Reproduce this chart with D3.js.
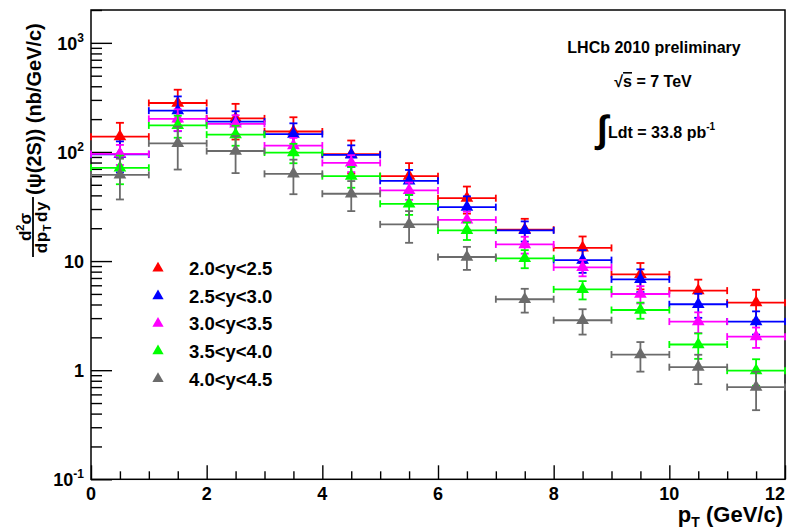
<!DOCTYPE html>
<html>
<head>
<meta charset="utf-8">
<script src="https://cdn.jsdelivr.net/npm/d3@7"></script>
<style>
  body { margin: 0; background: #fff; }
  svg { display: block; }
  text { font-family: "Liberation Sans", Arial, Helvetica, sans-serif; font-weight: bold; fill: #000; }
</style>
</head>
<body>
<svg id="chart" width="795" height="530"></svg>
<script>
// pT bins (GeV/c)
const ptLow  = [0, 1, 2, 3, 4, 5, 6, 7, 8, 9, 10, 11];
const ptHigh = [1, 2, 3, 4, 5, 6, 7, 8, 9, 10, 11, 12];
const ptMid  = [0.5, 1.5, 2.5, 3.5, 4.5, 5.5, 6.5, 7.5, 8.5, 9.5, 10.5, 11.5];

// rapidity intervals
const rapidityBins = ["2.0<y<2.5", "2.5<y<3.0", "3.0<y<3.5", "3.5<y<4.0", "4.0<y<4.5"];

// d2sigma/dpT dy for psi(2S), nb/(GeV/c), with statistical uncertainties
const xsecY20 = [138, 281, 203, 154, 95.3, 60, 37.7, 19.4, 13.2, 7.55, 5.36, 4.16];
const errY20  = [47, 91, 73, 54, 32, 19, 10.5, 5, 3.6, 2.05, 1.4, 1.3];
const xsecY25 = [95, 239, 190, 146, 94, 54.4, 31.2, 19.1, 10.2, 6.8, 4.02, 2.79];
const errY25  = [30, 84, 46, 37, 21, 14, 8, 4, 2.4, 1.6, 1.0, 0.67];
const xsecY30 = [96, 201, 181, 114.5, 79.4, 44.4, 23.9, 14.2, 8.75, 4.99, 2.79, 2.03];
const errY30  = [20, 45, 36, 20, 14, 8, 4.5, 2.5, 1.5, 0.9, 0.6, 0.43];
const xsecY35 = [71.6, 175, 144, 98.8, 60, 33.5, 19.1, 10.6, 5.5, 3.56, 1.72, 0.99];
const errY35  = [21, 40, 30, 20, 13, 7, 3.5, 2.0, 1.05, 0.6, 0.45, 0.27];
const xsecY40 = [61.7, 120, 102, 63, 41.4, 21.7, 10.9, 4.47, 2.87, 1.39, 1.065, 0.70];
const errY40  = [25, 51, 38, 22, 12.7, 7, 2.6, 1.1, 0.75, 0.42, 0.32, 0.27];

// axis ticks and labels
const xTickLabels = [0, 2, 4, 6, 8, 10, 12];
const yTickValues = [0.1, 1, 10, 100, 1000];
const yTickLabels = [["10", "-1"], ["1", ""], ["10", ""], ["10", "2"], ["10", "3"]];

const seriesValues = [xsecY20, xsecY25, xsecY30, xsecY35, xsecY40];
const seriesErrors = [errY20, errY25, errY30, errY35, errY40];
const seriesColors = ["#ff0000", "#0000ff", "#ff00ff", "#00ff00", "#6b6b6b"];

const svg = d3.select("#chart");
const frame = { left: 91, right: 785, top: 10, bottom: 479.3 };

const x = d3.scaleLinear().domain([0, 12]).range([frame.left, frame.right]);
const y = d3.scaleLog().domain([0.1, 2000]).range([frame.bottom, frame.top]);

// ---- axes (ticks point into the frame) ----
const xMinor = d3.range(0, 12.01, 0.5).filter(v => v % 2 !== 0);
const yMinor = [];
[0.1, 1, 10, 100, 1000].forEach(d => { for (let k = 2; k <= 9; k++) if (d * k <= 2000) yMinor.push(d * k); });

function axisStyle(g) {
  g.select(".domain").remove();
  g.selectAll("line").attr("stroke", "#000").attr("stroke-width", 1.4);
  g.selectAll("text").remove();
}

svg.append("g").attr("transform", `translate(0,${frame.bottom})`)
  .call(d3.axisBottom(x).tickValues(xTickLabels).tickSize(-14)).call(axisStyle);
svg.append("g").attr("transform", `translate(0,${frame.bottom})`)
  .call(d3.axisBottom(x).tickValues(xMinor).tickSize(-8)).call(axisStyle);
svg.append("g").attr("transform", `translate(${frame.left},0)`)
  .call(d3.axisLeft(y).tickValues(yTickValues).tickSize(-21)).call(axisStyle);
svg.append("g").attr("transform", `translate(${frame.left},0)`)
  .call(d3.axisLeft(y).tickValues(yMinor).tickSize(-11)).call(axisStyle);

// frame
svg.append("rect")
  .attr("x", frame.left).attr("y", frame.top)
  .attr("width", frame.right - frame.left).attr("height", frame.bottom - frame.top)
  .attr("fill", "none").attr("stroke", "#000").attr("stroke-width", 1.5);

// x tick labels (last one kept inside the canvas)
svg.append("g").selectAll("text").data(xTickLabels).join("text")
  .attr("x", d => x(d))
  .attr("y", 500)
  .attr("text-anchor", (d, i) => i === xTickLabels.length - 1 ? "end" : "middle")
  .attr("font-size", 18)
  .text(d => d);

// y tick labels with exponents
const yl = svg.append("g").selectAll("text").data(yTickValues).join("text")
  .attr("x", 84)
  .attr("y", d => y(d) + 7)
  .attr("text-anchor", "end")
  .attr("font-size", 18);
yl.each(function (d, i) {
  const t = d3.select(this);
  const [base, exp] = yTickLabels[i];
  t.append("tspan").text(base);
  if (exp) t.append("tspan").attr("font-size", 12).attr("dy", -8).text(exp);
});

// axis titles
const xTitle = svg.append("text").attr("x", 783).attr("y", 522).attr("text-anchor", "end").attr("font-size", 22);
xTitle.append("tspan").text("p");
xTitle.append("tspan").attr("font-size", 14).attr("dy", 5).text("T");
xTitle.append("tspan").attr("dy", -5).text(" (GeV/c)");

const yTitle = svg.append("g").attr("transform", "translate(33,257) rotate(-90)");
yTitle.append("line").attr("x1", 0).attr("x2", 60).attr("y1", 0).attr("y2", 0)
  .attr("stroke", "#000").attr("stroke-width", 1.8);
const num = yTitle.append("text").attr("x", 30).attr("y", -2.5).attr("text-anchor", "middle").attr("font-size", 17);
num.append("tspan").text("d");
num.append("tspan").attr("font-size", 11).attr("dy", -7).text("2");
num.append("tspan").attr("dy", 7).text("σ");
const den = yTitle.append("text").attr("x", 30).attr("y", 13.5).attr("text-anchor", "middle")
  .attr("font-size", 17).attr("letter-spacing", 0.6);
den.append("tspan").text("dp");
den.append("tspan").attr("font-size", 11).attr("dy", 4).text("T");
den.append("tspan").attr("dy", -4).attr("dx", 2).text("dy");
yTitle.append("text").attr("x", 62).attr("y", 8).attr("font-size", 20).text("(ψ(2S)) (nb/GeV/c)");

// ---- data: error bars then triangle markers, series in order ----
const capH = 3.5, capV = 4;
seriesValues.forEach((vals, s) => {
  const g = svg.append("g").attr("stroke", seriesColors[s]).attr("stroke-width", 1.8).attr("fill", "none");
  vals.forEach((v, i) => {
    const e = seriesErrors[s][i];
    const cy = y(v), cx = x(ptMid[i]);
    const x0 = x(ptLow[i]), x1 = x(ptHigh[i]);
    const yHi = y(v + e), yLo = y(Math.max(v - e, 0.1));
    g.append("line").attr("x1", x0).attr("x2", x1).attr("y1", cy).attr("y2", cy);
    g.append("line").attr("x1", x0).attr("x2", x0).attr("y1", cy - capH).attr("y2", cy + capH);
    g.append("line").attr("x1", x1).attr("x2", x1).attr("y1", cy - capH).attr("y2", cy + capH);
    g.append("line").attr("x1", cx).attr("x2", cx).attr("y1", yHi).attr("y2", yLo);
    g.append("line").attr("x1", cx - capV).attr("x2", cx + capV).attr("y1", yHi).attr("y2", yHi);
    g.append("line").attr("x1", cx - capV).attr("x2", cx + capV).attr("y1", yLo).attr("y2", yLo);
  });
  svg.append("g").selectAll("path").data(vals).join("path")
    .attr("transform", (v, i) => `translate(${x(ptMid[i])},${y(v)})`)
    .attr("d", d3.symbol(d3.symbolTriangle, 70))
    .attr("fill", seriesColors[s]);
});

// ---- legend ----
const legend = svg.append("g");
rapidityBins.forEach((label, i) => {
  const cy = 268.3 + i * 27.6;
  legend.append("path").attr("transform", `translate(158,${cy})`)
    .attr("d", d3.symbol(d3.symbolTriangle, 55)).attr("fill", seriesColors[i]);
  legend.append("text").attr("x", 189).attr("y", cy + 6.8).attr("font-size", 18.5).text(label);
});

// ---- annotations ----
svg.append("text").attr("x", 654).attr("y", 53).attr("text-anchor", "middle").attr("font-size", 16)
  .text("LHCb 2010 preliminary");
const rs = svg.append("text").attr("x", 653).attr("y", 87).attr("text-anchor", "middle").attr("font-size", 16);
rs.append("tspan").text("√");
rs.append("tspan").attr("text-decoration", "overline").text("s");
rs.append("tspan").text(" = 7 TeV");

svg.append("text").attr("x", 597).attr("y", 142).attr("font-size", 38).attr("font-weight", "normal")
  .attr("font-family", "DejaVu Sans").text("∫");
const lumi = svg.append("text").attr("x", 608).attr("y", 138).attr("font-size", 16);
lumi.append("tspan").text("Ldt = 33.8 pb");
lumi.append("tspan").attr("font-size", 10).attr("dy", -8).text("-1");
</script>
</body>
</html>
